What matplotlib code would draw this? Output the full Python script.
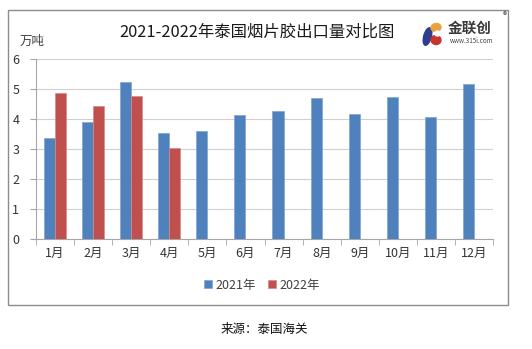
import matplotlib
matplotlib.use("Agg")
import matplotlib.pyplot as plt
import numpy as np
from matplotlib.patches import Rectangle, Ellipse

plt.rcParams['font.family'] = ['Noto Sans CJK SC', 'DejaVu Sans']

months = ['1月', '2月', '3月', '4月', '5月', '6月', '7月', '8月', '9月', '10月', '11月', '12月']
v2021 = [3.37, 3.91, 5.24, 3.53, 3.60, 4.13, 4.27, 4.70, 4.17, 4.73, 4.07, 5.17]
v2022 = [4.88, 4.43, 4.78, 3.02]
yticks = [0, 1, 2, 3, 4, 5, 6]

blue = '#4F81BD'
red = '#C0504D'

fig = plt.figure(figsize=(5.32, 3.49), dpi=100)
W, H = 532, 349

# outer frame
fig.patches.append(Rectangle((8 / W, 1 - 305 / H), 500 / W, 295 / H, transform=fig.transFigure,
                             fill=False, edgecolor='#8C8C8C', linewidth=1.0))

ax = fig.add_axes([36 / W, 1 - 239 / H, 457 / W, 180 / H])
x = np.arange(len(months))
bw = 0.29
ax.bar(x[:len(v2021)] - bw / 2, v2021, bw, color=blue, edgecolor='#7FA3D0', linewidth=0.5, label='2021年', zorder=3)
ax.bar(x[:len(v2022)] + bw / 2, v2022, bw, color=red, edgecolor='#D88A88', linewidth=0.5, label='2022年', zorder=3)

ax.set_xlim(-0.5, len(months) - 0.5)
ax.set_ylim(0, 6)
ax.set_yticks(yticks)
ax.set_yticklabels([str(t) for t in yticks], fontsize=9, color='#333333')
ax.set_xticks(x)
ax.set_xticklabels(months, fontsize=9, color='#333333')
ax.set_xticks(np.arange(-0.5, len(months)), minor=True)
ax.tick_params(axis='x', which='major', length=0, pad=6)
ax.tick_params(axis='x', which='minor', length=4, color='#A6A6A6')
ax.tick_params(axis='y', length=4, color='#A6A6A6', pad=8)
ax.grid(axis='y', color='#D0D0D0', linewidth=0.8, zorder=0)
for s in ['top', 'right']:
    ax.spines[s].set_visible(False)
for s in ['left', 'bottom']:
    ax.spines[s].set_color('#A6A6A6')

leg = fig.legend(loc='center', bbox_to_anchor=(262 / W, 1 - 285 / H), ncol=2, frameon=False,
                 fontsize=9, handlelength=0.6, handleheight=0.6, handletextpad=0.3, columnspacing=1.0)
for t in leg.get_texts():
    t.set_color('#404040')

fig.text(257 / W, 1 - 32 / H, '2021-2022年泰国烟片胶出口量对比图', ha='center', va='center',
         fontsize=11.8, color='#1a1a1a')
fig.text(20 / W, 1 - 41 / H, '万吨', ha='left', va='center', fontsize=9, color='#404040')
fig.text(264 / W, 1 - 329 / H, '来源：泰国海关', ha='center', va='center', fontsize=9, color='#111111')

# logo icon (pixel coordinates inside a small axes)
lax = fig.add_axes([421 / W, 1 - 47 / H, 22 / W, 26 / H])
lax.set_xlim(421, 443)
lax.set_ylim(47, 21)
lax.axis('off')
lax.add_patch(Ellipse((427.5, 36.5), 7.5, 18, angle=15, color='#2E3E8C'))
lax.add_patch(Ellipse((436, 27.5), 10, 8, angle=-10, color='#E8A33A'))
lax.add_patch(Ellipse((436, 40), 10, 9, angle=10, color='#C8352E'))
lax.add_patch(Ellipse((437.5, 33.5), 5.5, 5, color='white'))
fig.text(470 / W, 1 - 28 / H, '金联创', ha='center', va='center', fontsize=10.5, color='#3a3a3a',
         fontweight='bold')
fig.text(472 / W, 1 - 41 / H, 'www.315i.com', ha='center', va='center', fontsize=4.5, color='#444444')
fig.text(505 / W, 1 - 16 / H, '®', ha='center', va='center', fontsize=6, color='#444444')

fig.savefig('out.png', dpi=100)
